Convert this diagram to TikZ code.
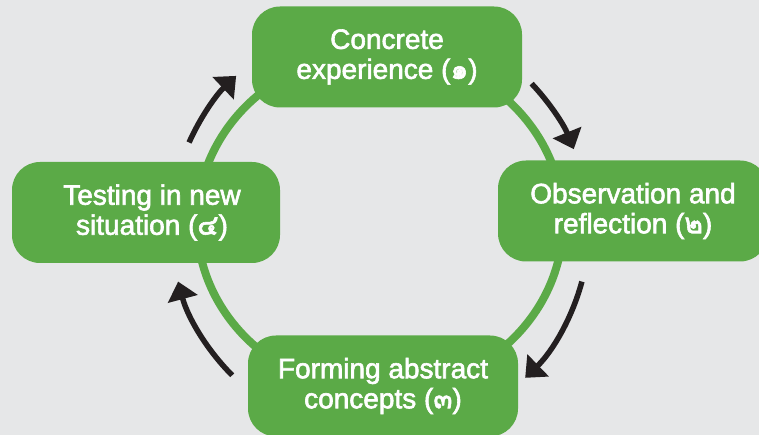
\documentclass[tikz,border=0pt]{standalone}
\usepackage{fontspec}
\newfontfamily\boxfont{Liberation Sans}
\newfontfamily\thaifont[Script=Thai]{Loma}
\usetikzlibrary{arrows.meta,calc}
\definecolor{bg}{RGB}{230,231,232}
\definecolor{leaf}{RGB}{91,170,71}
\definecolor{ink}{RGB}{35,31,32}
\newcommand\tnum[1]{{\thaifont #1}}
\newcommand\heavytext{\special{pdf:literal direct 2 Tr 0.6 w}}
\begin{document}
\begin{tikzpicture}[x=1pt,y=1pt,
  stagebox/.style={fill=leaf, rounded corners=28pt, minimum width=270pt,
    minimum height=101pt, inner sep=0pt, text=white, align=center,
    font=\boxfont\fontsize{28}{30}\selectfont},
  ring/.style={draw=leaf, line width=8pt},
  cyclearrow/.style={draw=ink, line width=5.5pt,
    -{Triangle[width=30pt,length=18pt]}}]
\useasboundingbox (0,0) rectangle (759,435);
\fill[bg] (0,0) rectangle (759,435);
\clip (0,0) rectangle (759,435);
\coordinate (ctr) at (380,213);
\draw[ring] (ctr) ellipse [x radius=183, y radius=170];
\node[stagebox] (s1) at (387,378) {\heavytext Concrete\\\heavytext experience (\tnum{๑})};
\node[stagebox] (s2) at (633,224) {\heavytext Observation and\\\heavytext reflection (\tnum{๒})};
\node[stagebox] (s3) at (383,49) {\heavytext Forming abstract\\\heavytext concepts (\tnum{๓})};
\node[stagebox, minimum width=268pt] (s4) at (146,222.5) {\heavytext\hspace*{12pt}Testing in new\\\heavytext\hspace*{12pt}situation (\tnum{๔})};
\coordinate (ac) at (380,207.5);
\coordinate (a1s) at ($(ac)+(43.5:209)$);
\coordinate (a2s) at ($(ac)+(-15:209)$);
\coordinate (a3s) at ($(ac)+(-135:209)$);
\coordinate (a4s) at ($(ac)+(156:209)$);
\draw[cyclearrow] (a1s) arc[start angle=43.5, end angle=22, radius=209];
\draw[cyclearrow] (a2s) arc[start angle=-15, end angle=-46, radius=209];
\draw[cyclearrow] (a3s) arc[start angle=-135, end angle=-165, radius=209];
\draw[cyclearrow] (a4s) arc[start angle=156, end angle=133.5, radius=209];
\end{tikzpicture}
\end{document}
